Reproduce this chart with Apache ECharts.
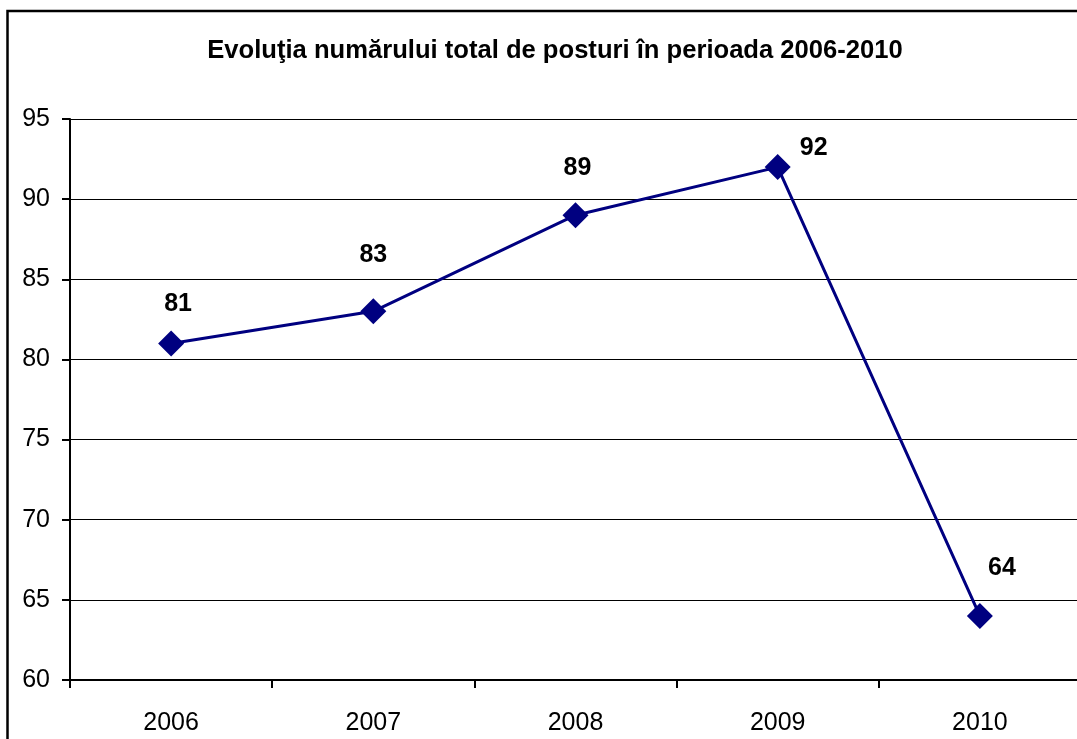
<!DOCTYPE html>
<html>
<head>
<meta charset="utf-8">
<style>
  html, body { margin: 0; padding: 0; background: #fff; }
  #chart { width: 1077px; height: 739px; }
</style>
<script src="https://cdn.jsdelivr.net/npm/echarts@6/dist/echarts.min.js"></script>
</head>
<body>
<div id="chart"></div>
<script>
// Total number of posts per year
const years = ['2006', '2007', '2008', '2009', '2010'];
const posts = [81, 83, 89, 92, 64];
const titleText = 'Evoluţia numărului total de posturi în perioada 2006-2010';

// Hand-placed value labels, [dx, dy] from each marker's centre
const labelOffsets = [[7, -39], [0, -56], [2, -47], [36, -19], [22, -48]];

const FONT = '"Liberation Sans", Arial, sans-serif';
const NAVY = '#000080';

const chart = echarts.init(document.getElementById('chart'), null, { renderer: 'canvas' });

chart.setOption({
  backgroundColor: '#ffffff',
  animation: false,
  title: {
    text: titleText,
    left: 550,
    textAlign: 'center',
    top: 33,
    textStyle: { fontFamily: FONT, fontSize: 25.6, fontWeight: 'bold', color: '#000' }
  },
  graphic: [{
    type: 'rect',
    shape: { x: 7.5, y: 11, width: 1200, height: 900 },
    style: { fill: 'none', stroke: '#000', lineWidth: 2.5 },
    silent: true,
    z: 100
  }],
  // plot area runs slightly past the right edge of the canvas
  grid: {
    left: 70, width: 1011, top: 119, bottom: 59,
    containLabel: false,
    outerBoundsMode: 'none'
  },
  xAxis: {
    type: 'category',
    data: years,
    boundaryGap: true,
    axisLine: { lineStyle: { color: '#000', width: 2 } },
    axisTick: { show: true, length: 8, lineStyle: { color: '#000', width: 2 } },
    axisLabel: { fontFamily: FONT, fontSize: 25, color: '#000', margin: 31 },
    splitLine: { show: false }
  },
  yAxis: {
    type: 'value',
    min: 60,
    max: 95,
    interval: 5,
    axisLine: { show: true, lineStyle: { color: '#000', width: 2 } },
    axisTick: { show: true, length: 8, lineStyle: { color: '#000', width: 2 } },
    axisLabel: { fontFamily: FONT, fontSize: 25, color: '#000', margin: 20 },
    splitLine: { show: true, lineStyle: { color: '#000', width: 1 } }
  },
  series: [{
    type: 'line',
    data: posts.map((v, i) => ({
      value: v,
      label: { offset: labelOffsets[i] }
    })),
    symbol: 'diamond',
    symbolSize: 26,
    lineStyle: { color: NAVY, width: 3 },
    itemStyle: { color: NAVY },
    label: {
      show: true,
      position: 'inside',
      align: 'center',
      verticalAlign: 'middle',
      fontFamily: FONT,
      fontSize: 25,
      fontWeight: 'bold',
      color: '#000'
    }
  }]
});
</script>
</body>
</html>
